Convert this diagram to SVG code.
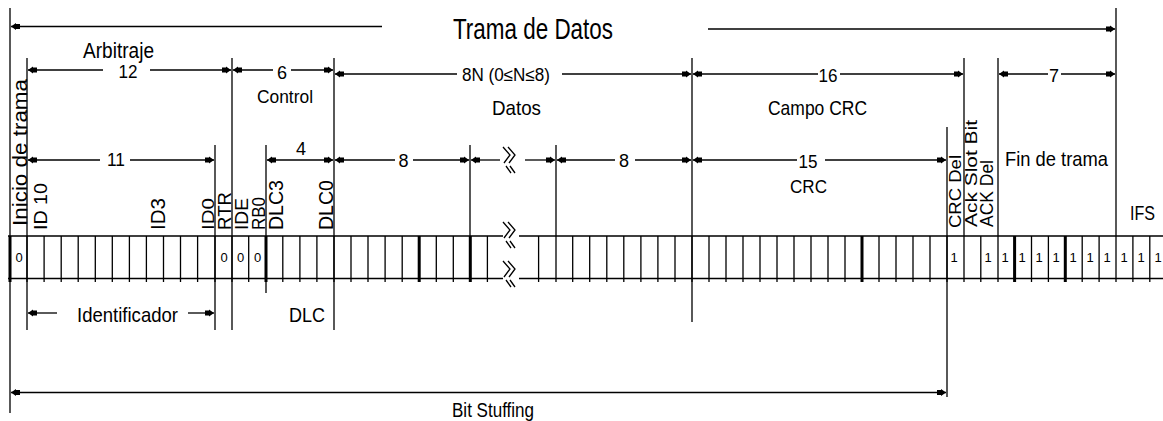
<svg xmlns="http://www.w3.org/2000/svg" width="1163" height="421" viewBox="0 0 1163 421">
<style>
text { font-family: "Liberation Sans", Arial, sans-serif; fill: #000; }
.ln { stroke: #000; stroke-width: 1.3; fill: none; }
.tk { stroke: #000; stroke-width: 3; fill: none; }
.a0 { marker-start: url(#arr); }
.a1 { marker-end: url(#arr); }
.num { font-size: 18px; text-anchor: middle; }
.bit { font-size: 13px; text-anchor: middle; }
</style>
<defs>
<marker id="arr" markerUnits="userSpaceOnUse" markerWidth="12" markerHeight="10" viewBox="-11 -5 12 10" refX="0" refY="0" orient="auto-start-reverse">
<path d="M0,0 L-5,-3.5 L-5,-2.5 L-9,-2.5 L-9,2.5 L-5,2.5 L-5,3.5 Z" fill="#000"/>
</marker>
<g id="brk">
<path class="ln" d="M0,0 L7,8 L1,16 M5,0 L12,8 L6,16 M3,19 L8,26 M7,19 L12,26"/>
</g>
</defs>
<rect width="1163" height="421" fill="#fff"/>

<g id="connectors">
<!-- long vertical boundaries -->
<path class="ln" d="M10,8 V413 M27,58 V330 M215,145 V330 M232,58 V330 M266,145 V293 M334,58 V330 M470,145 V236 M556,145 V236 M692,58 V322 M947,127 V397 M964,58 V236 M998,58 V236 M1116,8 V236"/>
<!-- title -->
<line class="ln a0" x1="11" y1="26.5" x2="382" y2="26.5"/>
<line class="ln a1" x1="708" y1="29" x2="1115" y2="29"/>
<!-- row 1 dims -->
<line class="ln a0" x1="28" y1="70" x2="103" y2="70"/>
<line class="ln a1" x1="150" y1="70" x2="231" y2="70"/>
<line class="ln a0" x1="233" y1="70" x2="273" y2="70"/>
<line class="ln a1" x1="291" y1="70" x2="333" y2="70"/>
<line class="ln a0" x1="335" y1="74" x2="457" y2="74"/>
<line class="ln a1" x1="562" y1="74" x2="691" y2="74"/>
<line class="ln a0" x1="693" y1="74" x2="818" y2="74"/>
<line class="ln a1" x1="840" y1="74" x2="963" y2="74"/>
<line class="ln a0" x1="999" y1="74" x2="1048" y2="74"/>
<line class="ln a1" x1="1061" y1="74" x2="1115" y2="74"/>
<!-- row 2 dims -->
<line class="ln a0" x1="28" y1="160" x2="100" y2="160"/>
<line class="ln a1" x1="130" y1="160" x2="214" y2="160"/>
<line class="ln a0 a1" x1="267" y1="160" x2="333" y2="160"/>
<line class="ln a0" x1="335" y1="160" x2="395" y2="160"/>
<line class="ln a1" x1="413" y1="160" x2="469" y2="160"/>
<line class="ln a0" x1="471" y1="160" x2="500" y2="160"/>
<line class="ln a1" x1="525" y1="160" x2="555" y2="160"/>
<line class="ln a0" x1="557" y1="160" x2="615" y2="160"/>
<line class="ln a1" x1="635" y1="160" x2="691" y2="160"/>
<line class="ln a0" x1="693" y1="160" x2="797" y2="160"/>
<line class="ln a1" x1="825" y1="160" x2="946" y2="160"/>
<!-- below -->
<line class="ln a0" x1="28" y1="313" x2="57" y2="313"/>
<line class="ln a1" x1="188" y1="313" x2="214" y2="313"/>
<line class="ln a0 a1" x1="11" y1="392.5" x2="946" y2="392.5"/>
<!-- breaks -->
<use href="#brk" x="503" y="147"/>
<use href="#brk" x="503" y="222"/>
<use href="#brk" x="503" y="261"/>
</g>

<g id="bit-row">
<path class="ln" d="M8,236 H503 M519,236 H1163 M8,278.5 H503 M519,278.5 H1163"/>
<path class="ln" d="M27,236 V282 M44.1,236 V282 M61.2,236 V282 M78.2,236 V282 M95.3,236 V282 M112.3,236 V282 M129.4,236 V282 M146.4,236 V282 M163.5,236 V282 M180.5,236 V282 M197.6,236 V282 M215,236 V282 M232,236 V282 M248.7,236 V282 M282.8,236 V282 M299.9,236 V282 M316.9,236 V282 M334,236 V282 M351,236 V282 M368,236 V282 M385.1,236 V282 M402.2,236 V282 M436.3,236 V282 M453.3,236 V282 M487.4,236 V282 M538.6,236 V282 M556,236 V282 M572.7,236 V282 M589.7,236 V282 M606.8,236 V282 M623.8,236 V282 M640.9,236 V282 M657.9,236 V282 M675,236 V282 M692,236 V282 M709,236 V282 M726,236 V282 M743,236 V282 M760,236 V282 M777,236 V282 M794,236 V282 M811,236 V282 M828,236 V282 M845,236 V282 M879,236 V282 M896,236 V282 M913,236 V282 M930,236 V282 M947,236 V282 M964,236 V282 M980.8,236 V282 M998,236 V282 M1031.5,236 V282 M1048.4,236 V282 M1082.2,236 V282 M1099.1,236 V282 M1116,236 V282 M1132.9,236 V282 M1149.8,236 V282"/>
<path class="tk" d="M10,236 V282 M266,236 V282 M419.2,236 V282 M470.3,236 V282 M862,236 V282 M1014.6,236 V282 M1065.3,236 V282"/>
<text class="bit" x="19" y="262">0</text>
<text class="bit" x="224" y="262">0</text>
<text class="bit" x="240.5" y="262">0</text>
<text class="bit" x="257.5" y="262">0</text>
<text class="bit" x="954" y="262">1</text>
<text class="bit" x="988" y="262">1</text>
<text class="bit" x="1005" y="262">1</text>
<text class="bit" x="1022" y="262">1</text>
<text class="bit" x="1039" y="262">1</text>
<text class="bit" x="1056" y="262">1</text>
<text class="bit" x="1073" y="262">1</text>
<text class="bit" x="1090" y="262">1</text>
<text class="bit" x="1107" y="262">1</text>
<text class="bit" x="1124" y="262">1</text>
<text class="bit" x="1141" y="262">1</text>
<text class="bit" x="1158" y="262">1</text>
</g>

<g id="title"><text x="453" y="39" font-size="29" textLength="160" lengthAdjust="spacingAndGlyphs">Trama de Datos</text></g>
<g id="inicio"><text transform="translate(26.5,226) rotate(-90)" font-size="20" textLength="147" lengthAdjust="spacingAndGlyphs">Inicio de trama</text></g>
<g id="arbitraje">
<text x="83" y="57.5" font-size="22" textLength="71" lengthAdjust="spacingAndGlyphs">Arbitraje</text>
<text class="num" x="128" y="77.5" textLength="19" lengthAdjust="spacingAndGlyphs">12</text>
<text class="num" x="116" y="166" textLength="18" lengthAdjust="spacingAndGlyphs">11</text>
<text transform="translate(46.5,230) rotate(-90)" font-size="19" textLength="47" lengthAdjust="spacingAndGlyphs">ID 10</text>
<text transform="translate(164.5,230) rotate(-90)" font-size="20" textLength="32" lengthAdjust="spacingAndGlyphs">ID3</text>
<text transform="translate(214.3,230) rotate(-90)" font-size="17" textLength="32" lengthAdjust="spacingAndGlyphs">ID0</text>
<text transform="translate(230.8,230) rotate(-90)" font-size="18" textLength="38" lengthAdjust="spacingAndGlyphs">RTR</text>
<text x="77" y="322" font-size="21" textLength="101" lengthAdjust="spacingAndGlyphs">Identificador</text>
</g>
<g id="control">
<text x="257" y="103" font-size="18" textLength="56" lengthAdjust="spacingAndGlyphs">Control</text>
<text class="num" x="282" y="79" font-size="17">6</text>
<text class="num" x="301" y="155" font-size="17">4</text>
<text transform="translate(248,230) rotate(-90)" font-size="18" textLength="32" lengthAdjust="spacingAndGlyphs">IDE</text>
<text transform="translate(265,230) rotate(-90)" font-size="18" textLength="33" lengthAdjust="spacingAndGlyphs">RB0</text>
<text transform="translate(283,230) rotate(-90)" font-size="20" textLength="50" lengthAdjust="spacingAndGlyphs">DLC3</text>
<text transform="translate(333,230) rotate(-90)" font-size="20" textLength="50" lengthAdjust="spacingAndGlyphs">DLC0</text>
<text x="289" y="322" font-size="21" textLength="36" lengthAdjust="spacingAndGlyphs">DLC</text>
</g>
<g id="datos">
<text x="462" y="81" font-size="18" textLength="88" lengthAdjust="spacingAndGlyphs">8N (0≤N≤8)</text>
<text x="492" y="115" font-size="21" textLength="49" lengthAdjust="spacingAndGlyphs">Datos</text>
<text class="num" x="403.5" y="167" font-size="17">8</text>
<text class="num" x="624" y="167" font-size="17">8</text>
</g>
<g id="crc">
<text class="num" x="828" y="82" textLength="19" lengthAdjust="spacingAndGlyphs">16</text>
<text x="768" y="115" font-size="21" textLength="99" lengthAdjust="spacingAndGlyphs">Campo CRC</text>
<text class="num" x="808" y="168" textLength="19" lengthAdjust="spacingAndGlyphs">15</text>
<text x="790" y="193" font-size="18" textLength="37" lengthAdjust="spacingAndGlyphs">CRC</text>
<text transform="translate(960.5,228) rotate(-90)" font-size="17" textLength="73" lengthAdjust="spacingAndGlyphs">CRC Del</text>
</g>
<g id="ack">
<text transform="translate(977,227) rotate(-90)" font-size="17" textLength="107" lengthAdjust="spacingAndGlyphs">Ack Slot Bit</text>
<text transform="translate(993,227) rotate(-90)" font-size="18" textLength="67" lengthAdjust="spacingAndGlyphs">ACK Del</text>
</g>
<g id="fin">
<text class="num" x="1054" y="82">7</text>
<text x="1005" y="166" font-size="21" textLength="103" lengthAdjust="spacingAndGlyphs">Fin de trama</text>
</g>
<g id="ifs"><text x="1130" y="220" font-size="21" textLength="25" lengthAdjust="spacingAndGlyphs">IFS</text></g>
<g id="bitstuffing"><text x="452" y="416.5" font-size="19.5" textLength="82" lengthAdjust="spacingAndGlyphs">Bit Stuffing</text></g>
</svg>
